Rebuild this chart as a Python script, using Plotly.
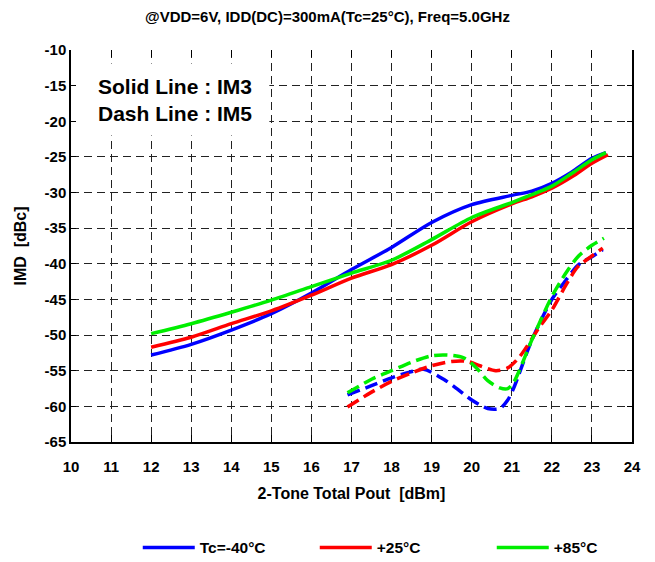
import plotly.graph_objects as go

# 2-tone total output power [dBm]
x_im3_m40 = [12, 13, 14, 15, 16, 17, 18, 19, 20, 21, 21.5, 22, 22.5, 23, 23.35]
x_im3_p25 = [12, 13, 14, 15, 16, 17, 18, 19, 20, 21, 21.5, 22, 22.5, 23, 23.4]
x_im3_p85 = [12, 13, 14, 15, 16, 17, 18, 19, 20, 21, 21.5, 22, 22.5, 23, 23.35]

# IM3 [dBc]
im3_m40 = [-52.8, -51.3, -49.3, -47.0, -44.1, -40.8, -37.7, -34.2, -31.7, -30.4, -29.8, -28.7, -27.1, -25.2, -24.4]
im3_p25 = [-51.7, -50.3, -48.4, -46.6, -44.4, -42.0, -40.1, -37.4, -34.1, -31.6, -30.6, -29.4, -27.8, -25.9, -24.7]
im3_p85 = [-49.8, -48.4, -46.8, -45.1, -43.2, -41.3, -39.5, -36.6, -33.5, -31.4, -30.3, -29.1, -27.3, -25.4, -24.4]

# IM5 [dBc]
x_im5_m40 = [16.9, 17.5, 18, 18.45, 18.8, 19.3, 19.6, 20, 20.4, 20.7, 20.9, 21.05, 21.5, 22, 22.35, 22.65, 23, 23.27]
im5_m40 = [-58.4, -57.1, -56.0, -55.2, -54.8, -56.2, -57.4, -59.1, -60.3, -60.3, -59.1, -57.4, -50.7, -45.0, -42.3, -40.2, -39.0, -38.0]

x_im5_p25 = [16.9, 17.5, 18, 18.5, 19, 19.5, 19.9, 20.2, 20.6, 20.9, 21.2, 21.7, 22, 22.35, 22.65, 23, 23.27]
im5_p25 = [-60.1, -58.0, -56.5, -55.3, -54.3, -53.7, -53.7, -54.3, -55.0, -54.6, -53.0, -48.8, -46.5, -43.0, -40.4, -38.9, -37.8]

x_im5_p85 = [16.9, 17.5, 18, 18.5, 19, 19.4, 19.8, 20.1, 20.4, 20.7, 20.9, 21.05, 21.5, 22, 22.35, 22.65, 23, 23.3]
im5_p85 = [-58.1, -56.2, -55.0, -53.8, -52.9, -52.8, -53.2, -54.5, -56.4, -57.4, -57.5, -56.6, -50.7, -44.6, -41.3, -39.0, -37.4, -36.4]

series_names = ["Tc=-40°C", "+25°C", "+85°C"]
colors = ["#0000FF", "#FF0000", "#00EE00"]

x_ticks = list(range(10, 25))
y_ticks = list(range(-65, -5, 5))

FONT = "Arial, Liberation Sans, sans-serif"

fig = go.Figure()

im3_sets = [(x_im3_m40, im3_m40), (x_im3_p25, im3_p25), (x_im3_p85, im3_p85)]
im5_sets = [(x_im5_m40, im5_m40), (x_im5_p25, im5_p25), (x_im5_p85, im5_p85)]

for (xs, ys), name, c in zip(im3_sets, series_names, colors):
    fig.add_trace(go.Scatter(
        x=xs, y=ys, mode="lines", name=f"<b>{name}</b>",
        line=dict(color=c, width=3.5, shape="spline", smoothing=0.8),
    ))

for (xs, ys), name, c in zip(im5_sets, series_names, colors):
    fig.add_trace(go.Scatter(
        x=xs, y=ys, mode="lines", name=name, showlegend=False,
        line=dict(color=c, width=3.5, shape="spline", smoothing=0.8, dash="13px,6px"),
    ))

# invisible trace carrying the top tick marks
fig.add_trace(go.Scatter(x=[10, 24], y=[-65, -65], xaxis="x2", mode="lines",
                         line=dict(width=0), showlegend=False, hoverinfo="skip"))

# white panel behind the line-style note
fig.add_shape(type="rect", xref="x", yref="y", x0=10.03, x1=14.95, y0=-22.0, y1=-11.9,
              fillcolor="white", line=dict(width=0), layer="between")

fig.add_annotation(
    xref="paper", yref="paper", x=0.044, y=0.872, xanchor="left", yanchor="middle",
    text="<b>Solid Line : IM3</b><br><b>Dash Line : IM5</b>", align="left",
    showarrow=False, font=dict(family=FONT, size=21, color="black"),
)

fig.update_layout(
    width=655, height=562,
    margin=dict(l=71, r=23, t=50, b=120, autoexpand=False),
    paper_bgcolor="white", plot_bgcolor="white",
    font=dict(family=FONT, color="black"),
    title=dict(text="<b>@VDD=6V, IDD(DC)=300mA(Tc=25°C), Freq=5.0GHz</b>",
               x=0.5, xanchor="center", y=0.970, yanchor="middle",
               font=dict(family=FONT, size=15, color="black")),
    showlegend=True,
    legend=dict(orientation="h", x=0.119, xanchor="left", y=-0.27, yanchor="middle",
                itemwidth=52, entrywidth=110, entrywidthmode="pixels",
                font=dict(family=FONT, size=15.5, color="black"),
                bgcolor="rgba(0,0,0,0)", traceorder="normal"),
    xaxis=dict(
        range=[10, 24], tickvals=x_ticks, ticktext=[f"<b>{v}</b>" for v in x_ticks],
        showline=True, linecolor="black", linewidth=1.5,
        ticks="inside", ticklen=7, tickcolor="black", ticklabelstandoff=10,
        showgrid=True, gridcolor="#222222", gridwidth=1, griddash="8px,5px",
        zeroline=False, tickfont=dict(family=FONT, size=15, color="black"),
        title=dict(text="<b>2-Tone Total Pout&nbsp;&nbsp;[dBm]</b>", standoff=14,
                   font=dict(family=FONT, size=16, color="black")),
    ),
    xaxis2=dict(
        range=[10, 24], tickvals=x_ticks, overlaying="x", side="top",
        showline=False, showgrid=False, showticklabels=False, zeroline=False,
        ticks="inside", ticklen=7, tickcolor="black",
    ),
    yaxis=dict(
        range=[-65, -10], tickvals=y_ticks, ticktext=[f"<b>{v}</b>" for v in y_ticks],
        showline=True, mirror="ticks", linecolor="black", linewidth=1.5,
        ticks="inside", ticklen=5, tickcolor="black",
        showgrid=True, gridcolor="#222222", gridwidth=1, griddash="8px,5px",
        zeroline=False, tickfont=dict(family=FONT, size=15, color="black"),
        title=dict(text="<b>IMD&nbsp;&nbsp;[dBc]</b>", standoff=14,
                   font=dict(family=FONT, size=16, color="black")),
    ),
)

fig.write_html("out.html")
